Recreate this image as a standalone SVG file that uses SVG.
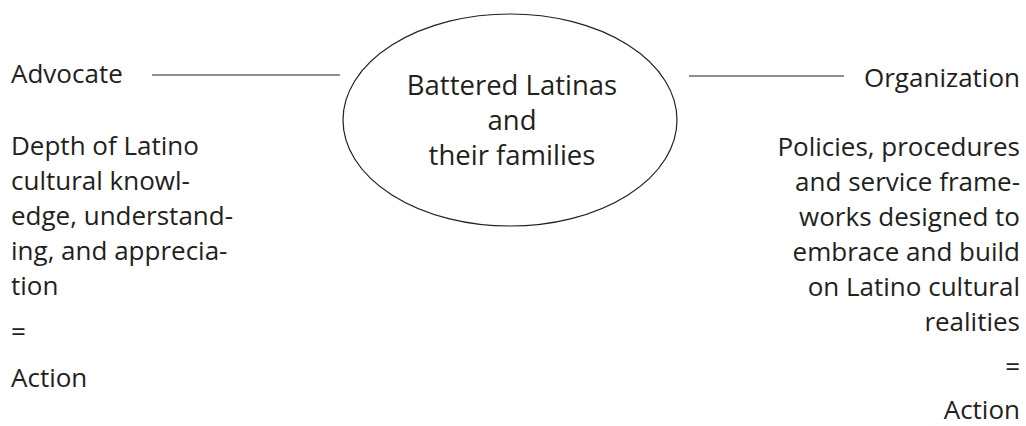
<svg xmlns="http://www.w3.org/2000/svg" width="1026" height="426" viewBox="0 0 1026 426">
<style>
text{font-family:"Open Sans","Noto Sans","Liberation Sans",sans-serif;font-size:26px;fill:#231f20}
.r{text-anchor:end}
.c{text-anchor:middle;font-size:27.5px}
.ln{stroke:#231f20;stroke-width:1.2;fill:none}
</style>
<rect width="1026" height="426" fill="#fff"/>
<g id="connectors">
<line class="ln" x1="152" y1="75" x2="340" y2="75"/>
<line class="ln" x1="689" y1="76" x2="844" y2="76"/>
</g>
<g id="center">
<ellipse class="ln" cx="510" cy="120" rx="167" ry="106"/>
<text class="c" x="512" y="95">Battered Latinas</text>
<text class="c" x="512" y="130">and</text>
<text class="c" x="512" y="165">their families</text>
</g>
<g id="advocate">
<text x="11" y="83">Advocate</text>
<text x="11" y="155">Depth of Latino</text>
<text x="11" y="190">cultural knowl-</text>
<text x="11" y="225">edge, understand-</text>
<text x="11" y="260">ing, and apprecia-</text>
<text x="11" y="295">tion</text>
<text x="11" y="341">=</text>
<text x="11" y="387">Action</text>
</g>
<g id="organization">
<text class="r" x="1020" y="87">Organization</text>
<text class="r" x="1020" y="156">Policies, procedures</text>
<text class="r" x="1020" y="191">and service frame-</text>
<text class="r" x="1020" y="226">works designed to</text>
<text class="r" x="1020" y="261">embrace and build</text>
<text class="r" x="1020" y="296">on Latino cultural</text>
<text class="r" x="1020" y="331">realities</text>
<text class="r" x="1020" y="376">=</text>
<text class="r" x="1020" y="419">Action</text>
</g>
</svg>
